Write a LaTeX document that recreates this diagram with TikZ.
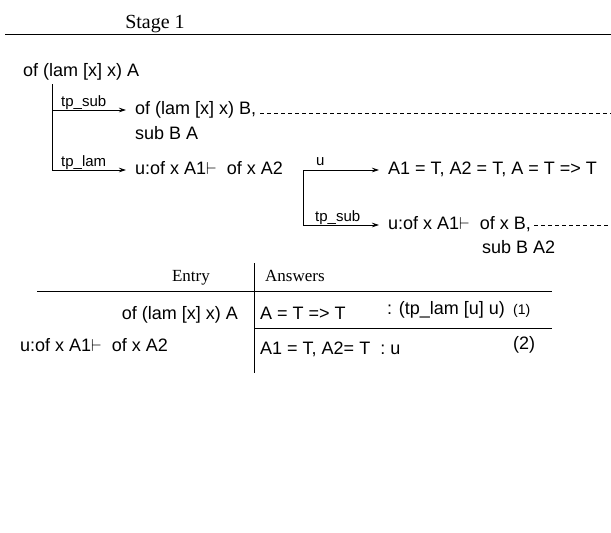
\documentclass[tikz,border=0pt]{standalone}
\usepackage{fontspec}
\setmainfont{Liberation Sans}
\newfontfamily\rmserif{Liberation Serif}
\usetikzlibrary{arrows.meta,positioning,calc}
\newcommand{\fsz}[1]{\fontsize{#1}{#1}\selectfont}

\begin{document}
\begin{tikzpicture}[x=1pt,y=-1pt,font=\fsz{18}]
\tikzset{txt/.style={inner sep=0pt,text height=13pt,text depth=3.5pt,anchor=west},
  lbl/.style={inner sep=0pt,anchor=base west,font=\fsz{15}},
  head/.style={inner sep=0pt,font=\rmserif\fsz{17}},
  cell/.style={inner sep=0pt},
  arr/.style={-{Stealth[length=7pt,width=4.5pt]},line width=0.7pt,shorten >=9pt},
  rule/.style={line width=0.8pt},
  trail/.style={dash pattern=on 4pt off 3pt,line width=0.6pt}}
\useasboundingbox (0,0) rectangle (611,533);

% title
\node[head,font=\rmserif\fsz{20},anchor=base] (stage) at (155,28) {Stage 1};
\draw[rule] (5,34) -- (611,34);

% derivation
\node[txt] (root) at (23,72) {of (lam [x] x) A};
\coordinate (trunk) at (52,84);
\node[txt] (lamB) at (135,110) {of (lam [x] x) B,};
\node[txt] (subA) at (135,135) {sub B A};
\node[txt] (hyp) at (135,170) {u:of x A1$\vdash$\ \ of x A2};
\draw[arr] (trunk) |- (lamB.west);
\draw[arr] (trunk) |- (hyp.west);
\node[lbl] at (61,106) {tp\_sub};
\node[lbl] at (61,166) {tp\_lam};
\draw[trail] ([xshift=4pt,yshift=-3pt]lamB.east) -- ++(360,0);

\coordinate (fork) at ([xshift=20pt]hyp.east);
\node[txt] (ans) at (388,170) {A1 = T, A2 = T, A = T => T};
\node[txt] (hypB) at (388,225) {u:of x A1$\vdash$\ \ of x B,};
\node[txt] (subA2) at (482,249) {sub B A2};
\draw[arr] (fork) -- (ans.west);
\draw[arr] (fork) |- (hypB.west);
\node[lbl] at (316,165) {u};
\node[lbl] at (315,221) {tp\_sub};
\draw[trail] ([xshift=3pt]hypB.east) -- ++(80,0);

% answer table
\draw[rule] (254,263) -- (254,373);
\draw[rule] (37,291) -- (552,291);
\draw[rule] (254,328) -- (552,328);
\node[head,anchor=base east] (entry) at (210,281) {Entry};
\node[head,anchor=base west] (answers) at (265,281) {Answers};
\node[cell,anchor=base east] (goal1) at (238,319) {of (lam [x] x) A};
\node[cell,anchor=base west] (res1) at (260,319) {A = T => T};
\node[cell,anchor=base west] (pf1) at (387,314) {: (tp\_lam [u] u)};
\node[cell,anchor=base west,font=\fsz{14}] (n1) at (513,314) {(1)};
\node[cell,anchor=base west] (goal2) at (20,351) {u:of x A1$\vdash$\ \ of x A2};
\node[cell,anchor=base west] (res2) at (260,354) {A1 = T, A2= T\ \ : u};
\node[cell,anchor=base west] (n2) at (513,349) {(2)};
\end{tikzpicture}
\end{document}
